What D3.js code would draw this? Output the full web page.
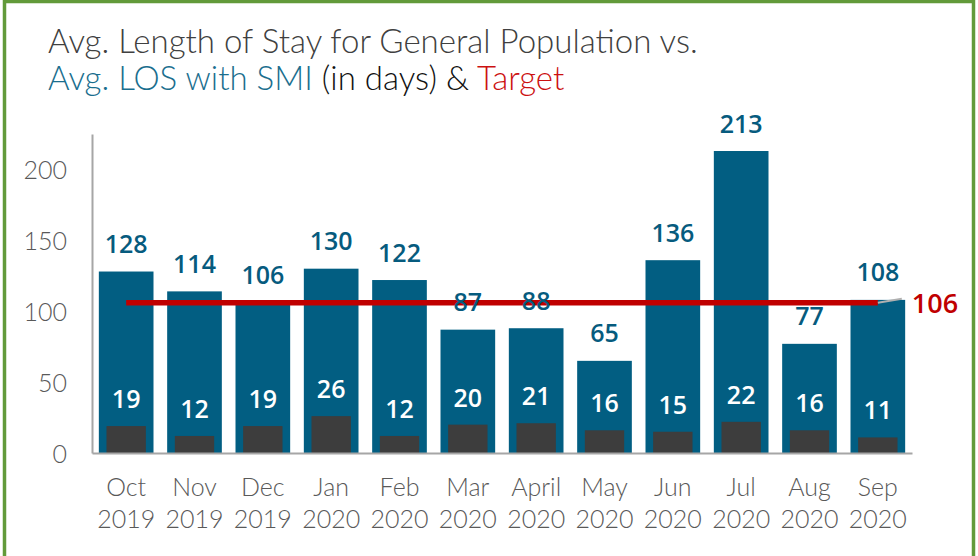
<!DOCTYPE html>
<html>
<head>
<meta charset="utf-8">
<script src="https://cdn.jsdelivr.net/npm/d3@7"></script>
<style>
  html, body { margin: 0; padding: 0; background: #ffffff; }
  svg { display: block; }
</style>
</head>
<body>
<svg id="chart" width="978" height="556"></svg>
<script>
// ---- data ----
const months = ["Oct", "Nov", "Dec", "Jan", "Feb", "Mar", "April", "May", "Jun", "Jul", "Aug", "Sep"];
const years  = ["2019", "2019", "2019", "2020", "2020", "2020", "2020", "2020", "2020", "2020", "2020", "2020"];
const generalLOS = [128, 114, 106, 130, 122, 87, 88, 65, 136, 213, 77, 108];
const smiLOS     = [19, 12, 19, 26, 12, 20, 21, 16, 15, 22, 16, 11];
const targetLOS  = [106, 106, 106, 106, 106, 106, 106, 106, 106, 106, 106, 106];
const yTicks = [0, 50, 100, 150, 200];
const titleLine1 = [{t: "Avg. Length of Stay for General Population vs.", c: "#404040"}];
const titleLine2 = [
  {t: "Avg. LOS with SMI", c: "#1a6e8e"},
  {t: " (in days) & ", c: "#111111"},
  {t: "Target", c: "#cc1111"}
];

// ---- layout ----
const svg = d3.select("#chart");
const plot = {left: 92, right: 912, top: 134, bottom: 453};
const barColor = "#025e82";
const smiColor = "#3d3d3d";
const labelBlue = "#065b7e";
const targetColor = "#c00000";
const axisColor = "#a6a6a6";
const tickFont = "Lato, 'Open Sans', sans-serif";
const numFont = "'Open Sans', 'Noto Sans', sans-serif";

// border
svg.append("rect")
  .attr("x", 4.5).attr("y", 1.5)
  .attr("width", 969).attr("height", 570)
  .attr("fill", "none").attr("stroke", "#629a3a").attr("stroke-width", 3.5);

const idx = d3.range(months.length);
const x = d3.scaleBand().domain(idx).range([plot.left, plot.right])
  .paddingInner(0.2).paddingOuter(0.1);
const y = d3.scaleLinear().domain([0, 225]).range([plot.bottom, plot.top]);

// general bars
svg.append("g").selectAll("rect").data(idx).join("rect")
  .attr("x", i => x(i))
  .attr("y", i => y(generalLOS[i]))
  .attr("width", x.bandwidth())
  .attr("height", i => y(0) - y(generalLOS[i]))
  .attr("fill", barColor);

// SMI bars (narrower, overlapped)
const innerW = x.bandwidth() * 0.72;
svg.append("g").selectAll("rect").data(idx).join("rect")
  .attr("x", i => x(i) + (x.bandwidth() - innerW) / 2)
  .attr("y", i => y(smiLOS[i]))
  .attr("width", innerW)
  .attr("height", i => y(0) - y(smiLOS[i]))
  .attr("fill", smiColor);

// axes
const yAxis = d3.axisLeft(y).tickValues(yTicks).tickSize(0).tickPadding(25);
const gy = svg.append("g").attr("transform", `translate(${plot.left},0)`).call(yAxis);
gy.select(".domain").attr("stroke", axisColor).attr("stroke-width", 2);
gy.selectAll("text").attr("font-family", tickFont).attr("font-size", 25).attr("font-weight", 300)
  .attr("fill", "#595959").attr("dy", "0.36em");

const xAxis = d3.axisBottom(x).tickSize(0).tickFormat(() => "");
const gx = svg.append("g").attr("transform", `translate(0,${plot.bottom})`).call(xAxis);
gx.select(".domain").attr("stroke", axisColor).attr("stroke-width", 2);
gx.selectAll(".tick").each(function(i) {
  const t = d3.select(this).append("text")
    .attr("text-anchor", "middle")
    .attr("font-family", tickFont).attr("font-size", 25).attr("font-weight", 300)
    .attr("fill", "#595959");
  t.append("tspan").attr("x", 0).attr("y", 43).text(months[i]);
  t.append("tspan").attr("x", 0).attr("y", 75).text(years[i]);
});

// target line
const cx = i => x(i) + x.bandwidth() / 2;
const line = d3.line().x(i => cx(i)).y(i => y(targetLOS[i]));
svg.append("path").datum(idx)
  .attr("d", line)
  .attr("fill", "none").attr("stroke", targetColor).attr("stroke-width", 5.5);

// leader + target label
const last = idx.length - 1;
svg.append("line")
  .attr("x1", cx(last)).attr("y1", y(targetLOS[last]))
  .attr("x2", cx(last) + 24).attr("y2", y(targetLOS[last]) - 4)
  .attr("stroke", "#b0b0b0").attr("stroke-width", 2);
svg.append("text")
  .attr("x", cx(last) + 34).attr("y", y(targetLOS[last]) + 10)
  .attr("font-family", numFont).attr("font-weight", 600).attr("font-size", 27)
  .attr("fill", targetColor).text(targetLOS[last]);

// value labels
svg.append("g").selectAll("text").data(idx).join("text")
  .attr("x", i => cx(i)).attr("y", i => y(generalLOS[i]) - 18.5)
  .attr("text-anchor", "middle")
  .attr("font-family", numFont).attr("font-weight", 600).attr("font-size", 25)
  .attr("fill", labelBlue).text(i => generalLOS[i]);

svg.append("g").selectAll("text").data(idx).join("text")
  .attr("x", i => cx(i)).attr("y", i => y(smiLOS[i]) - 18)
  .attr("text-anchor", "middle")
  .attr("font-family", numFont).attr("font-weight", 600).attr("font-size", 25)
  .attr("fill", "#ffffff").text(i => smiLOS[i]);

// title
function titleLine(parts, yPos, targetWidth) {
  const t = svg.append("text").attr("x", 48).attr("y", yPos)
    .attr("font-family", tickFont).attr("font-size", 26).attr("font-weight", 300);
  parts.forEach(p => t.append("tspan").attr("fill", p.c).text(p.t));
  if (targetWidth) {
    const w = t.node().getComputedTextLength();
    t.attr("font-size", 26 * targetWidth / w);
  }
  return t;
}
const l1 = titleLine(titleLine1, 53, 650);
const fs = +l1.attr("font-size");
const l2 = titleLine(titleLine2, 90, null);
l2.attr("font-size", fs);
</script>
</body>
</html>
